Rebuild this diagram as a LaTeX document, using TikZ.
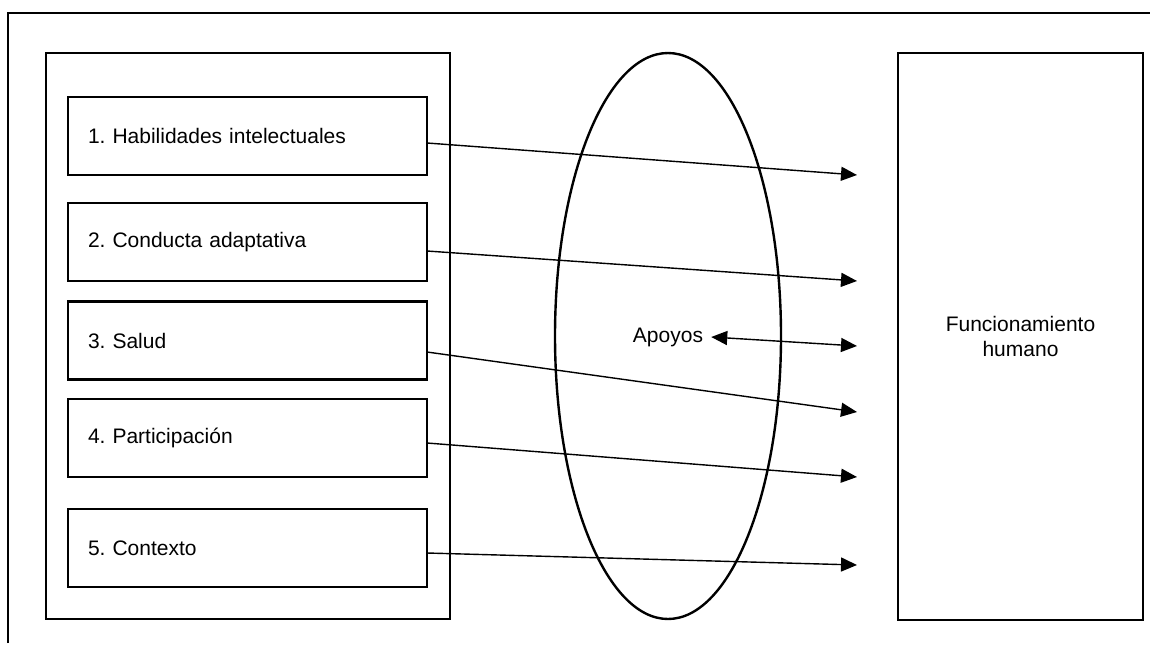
\documentclass[tikz,border=0pt]{standalone}
\usepackage{fontspec}
\setmainfont{Liberation Sans}
\usetikzlibrary{arrows.meta,shapes.geometric}
\frenchspacing
\begin{document}
\begin{tikzpicture}[x=1pt,y=-1pt,
  every node/.style={font=\fontsize{21}{25}\selectfont},
  thickline/.style={line width=2.7pt},
  bigbox/.style={draw,line width=2.7pt,inner sep=0pt},
  itembox/.style={draw,line width=2.7pt,inner xsep=20pt,inner ysep=0pt,
    text width=319pt,align=left,minimum height=78pt},
  conn/.style={line width=1.4pt,-{Triangle[length=16pt,width=14pt]}},
  bothconn/.style={line width=1.4pt,{Triangle[length=16pt,width=14pt]}-{Triangle[length=16pt,width=14pt]}}
]
\useasboundingbox (0,0) rectangle (1150,645);
% outer frame (top and left only)
\draw[thickline] (8,643) -- (8,13) -- (1152,13);
% containers
\node[bigbox,minimum width=404pt,minimum height=566pt] (left) at (248,336) {};
\node[bigbox,minimum width=245pt,minimum height=567pt,align=center] (func) at (1020.5,336.5)
  {Funcionamiento\\humano};
\node[draw,ellipse,line width=2.4pt,inner sep=0pt,minimum width=226pt,minimum height=566pt] (sup) at (668,336) {};
% items
\node[itembox] (b1) at (247.5,136) {1. Habilidades intelectuales};
\node[itembox] (b2) at (247.5,242) {2. Conducta adaptativa};
\node[itembox] (b3) at (247.5,340.5) {3. Salud};
\node[itembox] (b4) at (247.5,438) {4. Participación};
\node[itembox] (b5) at (247.5,548) {5. Contexto};
\node[inner xsep=8pt,inner ysep=2pt] (apoyos) at (668,337) {Apoyos};
% arrow ends
\coordinate (e1) at (857,175);
\coordinate (e2) at (857,281);
\coordinate (e3) at (857,412);
\coordinate (e4) at (857,477);
\coordinate (e5) at (857,565);
\coordinate (ea) at (857,346);
\coordinate (s1) at (427,143);
\coordinate (s2) at (427,251);
\coordinate (s3) at (427,352);
\coordinate (s4) at (427,443);
\coordinate (s5) at (427,553);
\draw[conn] (s1) -- (e1);
\draw[conn] (s2) -- (e2);
\draw[conn] (s3) -- (e3);
\draw[conn] (s4) -- (e4);
\draw[conn] (s5) -- (e5);
\draw[bothconn] (apoyos.east) -- (ea);
\end{tikzpicture}
\end{document}
